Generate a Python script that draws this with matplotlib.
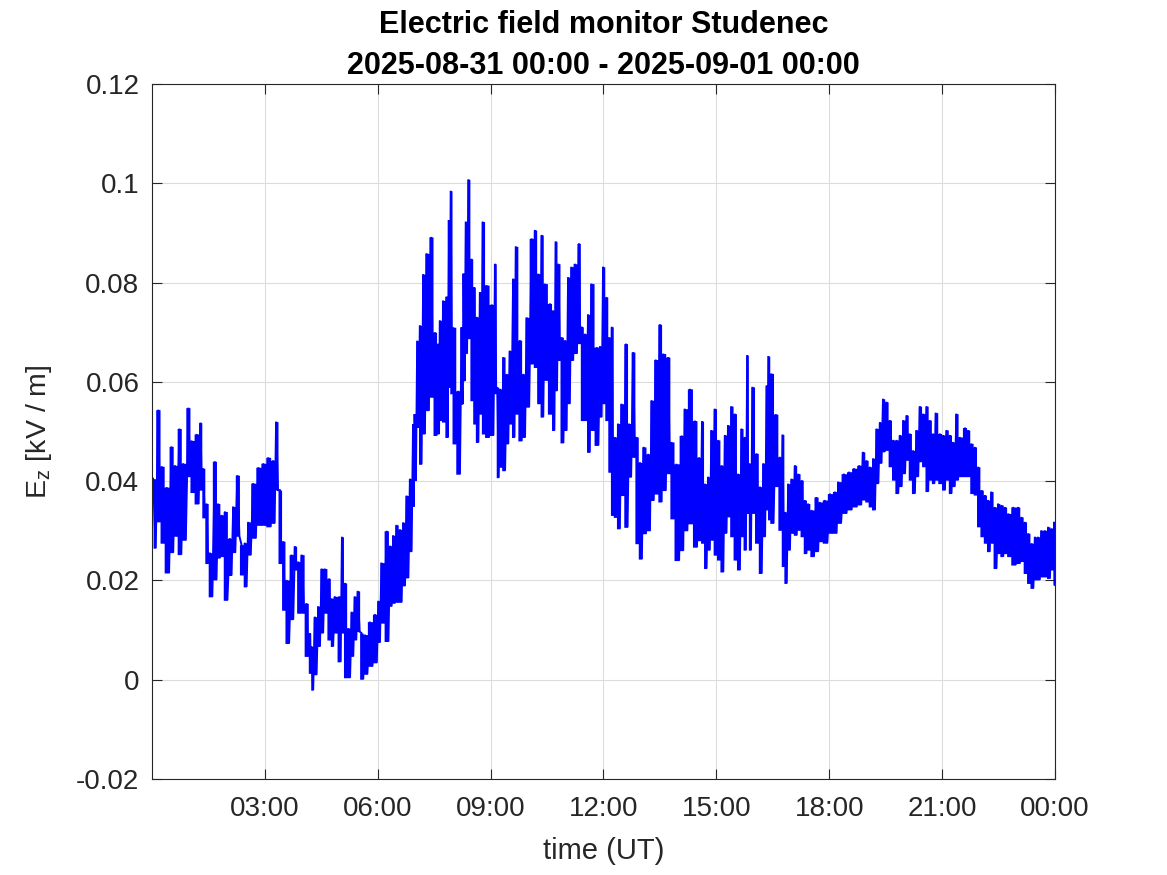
import numpy as np
import matplotlib
matplotlib.use('Agg')
import matplotlib.pyplot as plt

plt.rcParams['font.family'] = ['Liberation Sans', 'DejaVu Sans']

# time of day (hours UT) and local high / low envelope of E_z (kV/m)
hours = [0.03, 0.17, 0.26, 0.39, 0.52, 0.61, 0.73, 0.83, 0.97, 1.05, 1.19, 1.29, 1.36, 1.45, 1.54,
         1.67, 1.76, 1.85, 1.94, 2.07, 2.16, 2.27, 2.38, 2.47, 2.56, 2.69, 2.83, 2.96, 3.09, 3.22,
         3.30, 3.40, 3.49, 3.58, 3.71, 3.80, 3.89,
         3.98, 4.11, 4.20, 4.24, 4.33, 4.42, 4.51, 4.59, 4.71, 4.77, 4.86, 4.98, 5.05, 5.13, 5.22,
         5.31, 5.39, 5.47, 5.57, 5.66, 5.79, 5.93, 6.02, 6.10, 6.24, 6.33, 6.41, 6.50, 6.59, 6.68,
         6.77, 6.86,
         6.94, 6.98, 7.05, 7.12, 7.21, 7.30, 7.42, 7.52, 7.61, 7.65, 7.74, 7.83, 7.89, 7.94, 8.01,
         8.14, 8.23, 8.28, 8.34, 8.41, 8.49, 8.56, 8.63, 8.72, 8.79, 8.89, 9.03, 9.12, 9.18, 9.25,
         9.34, 9.43, 9.51, 9.60, 9.67, 9.78, 9.87, 9.96, 10.09, 10.18, 10.27, 10.36, 10.44, 10.58,
         10.66, 10.73, 10.80,
         10.89, 10.98, 11.06, 11.15, 11.24, 11.35, 11.42, 11.51, 11.59, 11.68, 11.82, 11.91, 11.99,
         12.08, 12.15, 12.22, 12.30, 12.39, 12.48, 12.60, 12.68, 12.79, 12.88, 12.97, 13.07, 13.19,
         13.28, 13.39, 13.50, 13.59, 13.72, 13.81, 13.94, 14.08, 14.16, 14.30, 14.43, 14.54,
         14.62, 14.70, 14.78, 14.87, 14.96, 15.05, 15.14, 15.23, 15.31, 15.40, 15.49, 15.58, 15.67,
         15.75, 15.82, 15.88, 15.96, 16.07, 16.16, 16.25, 16.34, 16.38, 16.46, 16.58, 16.69, 16.76,
         16.83, 16.91, 17.00, 17.09, 17.18, 17.27, 17.35, 17.44, 17.53, 17.66, 17.75, 17.88, 18.02,
         18.15, 18.24,
         18.39, 18.53, 18.66, 18.80, 18.90, 18.99, 19.08, 19.17, 19.26, 19.35, 19.43, 19.52, 19.61,
         19.70, 19.79, 19.88, 19.97, 20.06, 20.14, 20.23, 20.32, 20.41, 20.50, 20.59, 20.67, 20.76,
         20.83, 20.94, 21.03, 21.12, 21.21, 21.29, 21.38, 21.47, 21.61, 21.69, 21.78, 21.87, 21.96,
         22.05, 22.14, 22.22, 22.31, 22.40, 22.49, 22.58, 22.67, 22.76, 22.89, 23.02, 23.11, 23.20,
         23.29, 23.38, 23.47, 23.55, 23.64, 23.73, 23.82, 23.91, 23.98]

upper = [0.0405, 0.0544, 0.0430, 0.0388, 0.0470, 0.0432, 0.0506, 0.0436, 0.0548, 0.0482, 0.0495,
         0.0518, 0.0426, 0.0355, 0.0256, 0.0440, 0.0355, 0.0332, 0.0339, 0.0285, 0.0349, 0.0412,
         0.0272, 0.0276, 0.0318, 0.0396, 0.0428, 0.0436, 0.0448, 0.0442, 0.0520, 0.0382, 0.0279,
         0.0201, 0.0252, 0.0269, 0.0238,
         0.0252, 0.0154, 0.0094, 0.0067, 0.0127, 0.0148, 0.0224, 0.0224, 0.0204, 0.0164, 0.0168,
         0.0168, 0.0288, 0.0195, 0.0104, 0.0137, 0.0168, 0.0179, 0.0094, 0.0091, 0.0117, 0.0132,
         0.0159, 0.0236, 0.0300, 0.0270, 0.0291, 0.0312, 0.0303, 0.0317, 0.0371, 0.0405,
         0.0515, 0.0535, 0.0683, 0.0714, 0.0817, 0.0859, 0.0892, 0.0700, 0.0677, 0.0724, 0.0764,
         0.0772, 0.0926, 0.0985, 0.0710, 0.0582, 0.0710, 0.0818, 0.0923, 0.1008, 0.0848, 0.0791,
         0.0731, 0.0781, 0.0923, 0.0795, 0.0756, 0.0838, 0.0589, 0.0586, 0.0650, 0.0616, 0.0663,
         0.0808, 0.0873, 0.0684, 0.0616, 0.0730, 0.0889, 0.0906, 0.0818, 0.0896, 0.0798, 0.0758,
         0.0744, 0.0883, 0.0838,
         0.0690, 0.0684, 0.0811, 0.0832, 0.0838, 0.0879, 0.0711, 0.0697, 0.0736, 0.0798, 0.0670,
         0.0672, 0.0832, 0.0771, 0.0690, 0.0711, 0.0489, 0.0516, 0.0556, 0.0677, 0.0516, 0.0660,
         0.0489, 0.0438, 0.0469, 0.0455, 0.0563, 0.0645, 0.0716, 0.0657, 0.0650, 0.0479, 0.0435,
         0.0492, 0.0546, 0.0586, 0.0522, 0.0448,
         0.0521, 0.0395, 0.0409, 0.0503, 0.0546, 0.0483, 0.0432, 0.0493, 0.0513, 0.0551, 0.0536,
         0.0415, 0.0506, 0.0489, 0.0654, 0.0436, 0.0590, 0.0456, 0.0389, 0.0436, 0.0593, 0.0652,
         0.0617, 0.0535, 0.0449, 0.0494, 0.0338, 0.0395, 0.0405, 0.0432, 0.0415, 0.0402, 0.0362,
         0.0355, 0.0342, 0.0368, 0.0358, 0.0362, 0.0375, 0.0379, 0.0399,
         0.0415, 0.0419, 0.0426, 0.0432, 0.0459, 0.0442, 0.0429, 0.0446, 0.0506, 0.0519, 0.0566,
         0.0560, 0.0523, 0.0483, 0.0483, 0.0493, 0.0523, 0.0533, 0.0496, 0.0462, 0.0503, 0.0551,
         0.0536, 0.0551, 0.0523, 0.0496, 0.0538, 0.0496, 0.0493, 0.0503, 0.0493, 0.0479, 0.0536,
         0.0489, 0.0508, 0.0503, 0.0476, 0.0469, 0.0429, 0.0382, 0.0372, 0.0362, 0.0379, 0.0348,
         0.0355, 0.0352, 0.0348, 0.0335, 0.0348, 0.0348, 0.0328, 0.0318, 0.0295, 0.0275, 0.0288,
         0.0288, 0.0301, 0.0301, 0.0308, 0.0305, 0.0318]

lower = [0.0265, 0.0318, 0.0275, 0.0215, 0.0256, 0.0289, 0.0252, 0.0281, 0.0409, 0.0377, 0.0354,
         0.0382, 0.0326, 0.0234, 0.0167, 0.0201, 0.0245, 0.0248, 0.0160, 0.0210, 0.0256, 0.0289,
         0.0211, 0.0187, 0.0251, 0.0285, 0.0311, 0.0311, 0.0308, 0.0315, 0.0382, 0.0234, 0.0140,
         0.0073, 0.0121, 0.0221, 0.0134,
         0.0134, 0.0047, 0.0013, -0.0021, 0.0010, 0.0067, 0.0094, 0.0134, 0.0080, 0.0067, 0.0094,
         0.0036, 0.0094, 0.0004, 0.0004, 0.0047, 0.0080, 0.0097, 0.0001, 0.0011, 0.0027, 0.0034,
         0.0075, 0.0114, 0.0077, 0.0148, 0.0154, 0.0156, 0.0156, 0.0189, 0.0205, 0.0258,
         0.0349, 0.0401, 0.0508, 0.0434, 0.0495, 0.0542, 0.0569, 0.0492, 0.0495, 0.0522, 0.0519,
         0.0488, 0.0589, 0.0576, 0.0475, 0.0414, 0.0555, 0.0602, 0.0657, 0.0687, 0.0562, 0.0515,
         0.0478, 0.0535, 0.0495, 0.0488, 0.0492, 0.0576, 0.0407, 0.0428, 0.0421, 0.0475, 0.0515,
         0.0488, 0.0535, 0.0481, 0.0488, 0.0549, 0.0636, 0.0629, 0.0556, 0.0529, 0.0603, 0.0535,
         0.0502, 0.0582, 0.0643,
         0.0477, 0.0502, 0.0556, 0.0643, 0.0657, 0.0677, 0.0522, 0.0522, 0.0458, 0.0502, 0.0472,
         0.0529, 0.0556, 0.0522, 0.0418, 0.0331, 0.0327, 0.0304, 0.0371, 0.0307, 0.0408, 0.0448,
         0.0274, 0.0243, 0.0294, 0.0300, 0.0361, 0.0374, 0.0358, 0.0381, 0.0415, 0.0324, 0.0240,
         0.0260, 0.0300, 0.0314, 0.0267, 0.0280,
         0.0275, 0.0224, 0.0261, 0.0281, 0.0251, 0.0241, 0.0217, 0.0295, 0.0328, 0.0288, 0.0241,
         0.0221, 0.0288, 0.0261, 0.0335, 0.0261, 0.0335, 0.0275, 0.0214, 0.0288, 0.0342, 0.0322,
         0.0315, 0.0389, 0.0301, 0.0228, 0.0194, 0.0261, 0.0295, 0.0291, 0.0301, 0.0288, 0.0254,
         0.0261, 0.0248, 0.0258, 0.0278, 0.0275, 0.0295, 0.0295, 0.0315,
         0.0335, 0.0342, 0.0348, 0.0352, 0.0362, 0.0358, 0.0348, 0.0342, 0.0395, 0.0436, 0.0459,
         0.0462, 0.0429, 0.0402, 0.0375, 0.0389, 0.0415, 0.0442, 0.0402, 0.0375, 0.0409, 0.0439,
         0.0429, 0.0379, 0.0402, 0.0395, 0.0402, 0.0395, 0.0382, 0.0402, 0.0375, 0.0389, 0.0402,
         0.0409, 0.0409, 0.0409, 0.0375, 0.0372, 0.0308, 0.0288, 0.0275, 0.0258, 0.0275, 0.0224,
         0.0254, 0.0248, 0.0254, 0.0248, 0.0231, 0.0234, 0.0238, 0.0214, 0.0194, 0.0184, 0.0201,
         0.0201, 0.0207, 0.0207, 0.0204, 0.0221, 0.0191]

xtick_hours = [3, 6, 9, 12, 15, 18, 21, 24]
xtick_labels = ['03:00', '06:00', '09:00', '12:00', '15:00', '18:00', '21:00', '00:00']
ytick_values = [-0.02, 0, 0.02, 0.04, 0.06, 0.08, 0.1, 0.12]
ytick_labels = ['-0.02', '0', '0.02', '0.04', '0.06', '0.08', '0.1', '0.12']

t = np.asarray(hours)
hi = np.asarray(upper)
lo = np.asarray(lower)
t_next = np.append(t[1:], t[-1] + 0.04)
t_mid = 0.5 * (t + t_next)
x = np.empty(2 * len(t))
y = np.empty(2 * len(t))
x[0::2] = t
x[1::2] = t_mid
y[0::2] = hi
y[1::2] = lo

blue = (0, 0, 1)
fig = plt.figure(figsize=(11.67, 8.75), dpi=100)
ax = fig.add_axes([0.1302, 0.1097, 0.7738, 0.7943])
ax.fill_between(t, lo, hi, step='mid', color=blue, linewidth=0)
ax.plot(x, y, color=blue, linewidth=1.4, solid_joinstyle='miter')

ax.set_xlim(0, 24)
ax.set_ylim(-0.02, 0.12)
ax.set_xticks(xtick_hours)
ax.set_xticklabels(xtick_labels)
ax.set_yticks(ytick_values)
ax.set_yticklabels(ytick_labels)

axis_col = '#262626'
ax.tick_params(direction='in', length=7, width=0.8, colors=axis_col, labelsize=20,
               top=True, right=True)
ax.tick_params(axis='x', pad=12)
ax.tick_params(axis='y', pad=9)
for s in ax.spines.values():
    s.set_color(axis_col)
    s.set_linewidth(0.8)
ax.grid(True, color='#dcdcdc', linewidth=0.8)
ax.set_axisbelow(True)

ax.set_xlabel('time (UT)', fontsize=21, color=axis_col, labelpad=11)
ax.set_ylabel(r'E$_{\mathregular{z}}$ [kV / m]', fontsize=20.5, color=axis_col)
ax.yaxis.set_label_coords(-0.108, 0.5)
ax.set_title('Electric field monitor Studenec\n2025-08-31 00:00 - 2025-09-01 00:00',
             fontsize=22, fontweight='bold', linespacing=1.5, pad=7)

fig.savefig('out.png', dpi=100)
